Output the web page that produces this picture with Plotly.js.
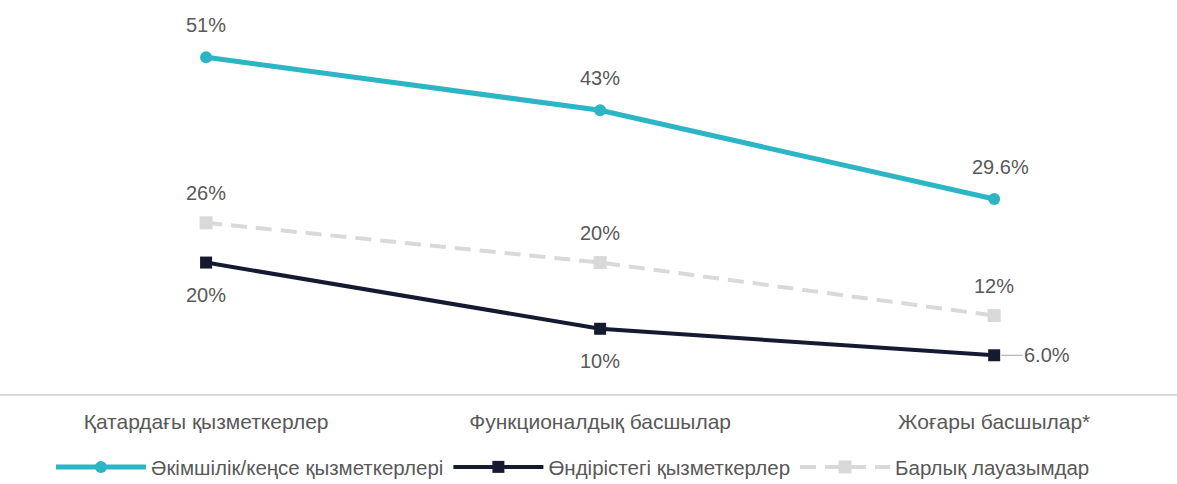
<!DOCTYPE html>
<html><head><meta charset="utf-8">
<script src="https://cdn.plot.ly/plotly-3.0.1.min.js"></script>
<style>html,body{margin:0;padding:0;background:#fff}#chart{width:1177px;height:484px}</style>
</head><body><div id="chart"></div>
<script>
const categories = ["Қатардағы қызметкерлер", "Функционалдық басшылар", "Жоғары басшылар*"];
const seriesNames = ["Әкімшілік/кеңсе қызметкерлері", "Өндірістегі қызметкерлер", "Барлық лауазымдар"];
const adminValues = [51, 43, 29.6];
const productionValues = [20, 10, 6.0];
const allValues = [26, 20, 12];
const adminLabels = ["51%", "43%", "29.6%"];
const productionLabels = ["20%", "10%", "6.0%"];
const allLabels = ["26%", "20%", "12%"];

const cyan = "#2cb5c4", navy = "#151a30", gray = "#d9d9d9", txt = "#595959";
const font = "Liberation Sans, Arial, sans-serif";

const traces = [
  {x: categories, y: adminValues, name: seriesNames[0], mode: "lines+markers",
   line: {color: cyan, width: 5}, marker: {symbol: "circle", size: 12, color: cyan}},
  {x: categories, y: productionValues, name: seriesNames[1], mode: "lines+markers",
   line: {color: navy, width: 4}, marker: {symbol: "square", size: 12, color: navy}},
  {x: categories, y: allValues, name: seriesNames[2], mode: "lines+markers",
   line: {color: gray, width: 4, dash: "16px,9px"}, marker: {symbol: "square", size: 13, color: gray}}
];
const data = [traces[2], traces[1], traces[0]];

const lf = {size: 20, color: txt, family: font};
const annotations = [];
categories.forEach((c, i) => {
  annotations.push({x: c, y: adminValues[i], text: adminLabels[i], showarrow: false,
    yshift: 32, xshift: i === 2 ? 6 : 0, font: lf});
  annotations.push({x: c, y: allValues[i], text: allLabels[i], showarrow: false,
    yshift: 30, font: lf});
  if (i < 2) {
    annotations.push({x: c, y: productionValues[i], text: productionLabels[i], showarrow: false,
      yshift: -32, font: lf});
  } else {
    annotations.push({x: c, y: productionValues[i], text: productionLabels[i], showarrow: true,
      arrowhead: 0, arrowwidth: 1, arrowcolor: "#a6a6a6", ax: 53, ay: 0, standoff: 7,
      font: lf});
  }
});

const layout = {
  width: 1177, height: 484,
  margin: {l: 0, r: 0, t: 0, b: 89, autoexpand: false},
  paper_bgcolor: "#fff", plot_bgcolor: "#fff",
  showlegend: true,
  legend: {orientation: "h", xref: "container", yref: "container", x: 0.0433, y: 0.035,
    xanchor: "left", yanchor: "middle", itemwidth: 90, traceorder: "reversed",
    font: {size: 20.5, color: txt, family: font}},
  xaxis: {type: "category", range: [-0.523, 2.464], showgrid: false, zeroline: false,
    showline: false, ticks: "", ticklabelstandoff: 12,
    tickfont: {size: 21, color: txt, family: font}, fixedrange: true},
  yaxis: {range: [0, 59.65], showgrid: false, zeroline: true, zerolinecolor: "#d9d9d9",
    zerolinewidth: 2, showticklabels: false, showline: false, fixedrange: true},
  annotations: annotations
};
Plotly.newPlot("chart", data, layout, {displayModeBar: false, staticPlot: true});
</script></body></html>
